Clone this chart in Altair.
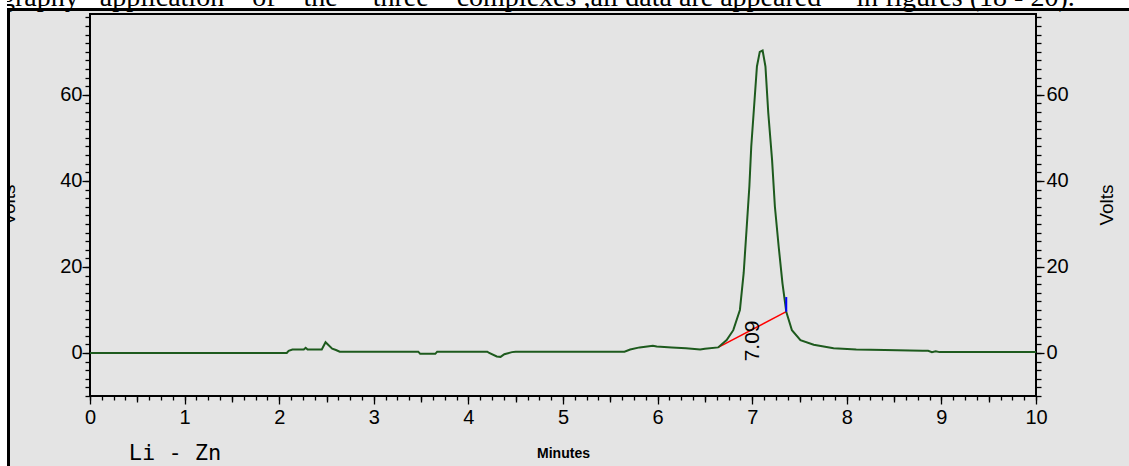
import altair as alt
import pandas as pd
import numpy as np

# ---- chromatogram trace (minutes, volts) ----
minutes = [0.0, 2.08, 2.10, 2.14, 2.26, 2.28, 2.30, 2.45, 2.49, 2.56, 2.60, 2.64,
           3.47, 3.49, 3.65, 3.67, 4.20, 4.22, 4.30, 4.34, 4.38, 4.46, 4.50,
           5.65, 5.71, 5.81, 5.95, 5.99, 6.15, 6.30, 6.45, 6.50, 6.64,
           6.73, 6.80, 6.87, 6.91, 6.94, 6.97, 6.99, 7.02, 7.05, 7.08, 7.11,
           7.14, 7.17, 7.21, 7.24, 7.28, 7.32, 7.36, 7.42, 7.51, 7.65, 7.86,
           8.10, 8.40, 8.80, 8.86, 8.90, 8.94, 8.98, 10.0]
volts = [0.0, 0.0, 0.5, 0.8, 0.8, 1.2, 0.8, 0.8, 2.5, 1.0, 0.7, 0.3,
         0.3, -0.2, -0.2, 0.3, 0.3, 0.0, -0.8, -0.9, -0.3, 0.2, 0.3,
         0.3, 0.8, 1.3, 1.7, 1.5, 1.3, 1.1, 0.8, 1.0, 1.3,
         3.0, 5.3, 10.0, 18.6, 28.6, 38.7, 48.0, 57.3, 66.6, 70.0, 70.3,
         66.6, 55.8, 44.9, 34.0, 24.7, 16.2, 9.6, 5.3, 3.0, 1.9, 1.1,
         0.8, 0.7, 0.5, 0.5, 0.2, 0.4, 0.2, 0.2]

# integration baseline (red) and peak end marker (blue)
base_t = [6.64, 7.36]
base_v = [1.3, 9.6]
end_t = [7.36]
end_v = [9.6, 13.0]
peak_label = ["7.09"]
peak_label_pos = [7.01, 2.8]

x_major = list(range(0, 11))
x_mid = [i + 0.5 for i in range(10)]
x_minor = [round(v, 3) for v in np.arange(0, 10.0001, 0.125)]
y_major = [0, 20, 40, 60]
y_minor = list(range(-10, 79, 2))

NB = "\u00a0"
caption = ("graphy" + NB * 2 + " application" + NB * 3 + " of" + NB * 3 + " the" + NB * 4 +
           " three" + NB * 3 + " complexes ,all data are appeared" + NB * 4 +
           " in figures (18 - 20).")

W, H = 946, 382
NUMFONT = "Liberation Sans, Arial, sans-serif"
GRAY = "#e4e4e4"

df = pd.DataFrame({"t": minutes, "v": volts})
one = pd.DataFrame({"a": [0]})

xs = alt.Scale(domain=[0, 10], nice=False, zero=False)
ys = alt.Scale(domain=[-10, 78.8], nice=False, zero=False)


def ax(**kw):
    base = dict(domain=False, grid=False, tickColor="black", tickWidth=1.3,
                labelFont=NUMFONT, labelFontSize=20, labelColor="black",
                labelFlush=False, labelOverlap=False, title=None)
    base.update(kw)
    return alt.Axis(**base)


def ghost(xaxis, yaxis):
    return alt.Chart(df).mark_point(opacity=0).encode(
        x=alt.X("t:Q", scale=xs, axis=xaxis),
        y=alt.Y("v:Q", scale=ys, axis=yaxis),
    )


def rect(x1, x2, y1, y2, color):
    return alt.Chart(one).mark_rect(color=color).encode(
        x=alt.value(x1), x2=alt.value(x2), y=alt.value(y1), y2=alt.value(y2))


# decorations (white page strips, caption, frame)
top_white = rect(-90, 1039, -14, -6, "white")
caption_txt = alt.Chart(one).mark_text(
    text=caption, font="Liberation Serif, Times New Roman, serif", fontSize=28,
    align="left", baseline="alphabetic", color="black"
).encode(x=alt.value(-89), y=alt.value(-8))
volts_left = alt.Chart(one).mark_text(
    text="Volts", font="Liberation Sans, Arial, sans-serif", fontSize=19, angle=270,
    align="center", baseline="alphabetic", color="black"
).encode(x=alt.value(-75), y=alt.value(191))
left_white = rect(-90, -83, -14, 452, "white")
top_border = rect(-83, 1039, -6, -3, "black")
left_border = rect(-83, -80, -6, 452, "black")

volts_right = alt.Chart(one).mark_text(
    text="Volts", font="Liberation Sans, Arial, sans-serif", fontSize=19, angle=270,
    align="center", baseline="alphabetic", color="black"
).encode(x=alt.value(1023), y=alt.value(191))
lizn = alt.Chart(one).mark_text(
    text="Li - Zn", font="DejaVu Sans Mono, monospace", fontSize=22,
    align="center", baseline="middle", color="black"
).encode(x=alt.value(85), y=alt.value(439))

# trace with major axes
trace = alt.Chart(df).mark_line(color="#1d5a1d", strokeWidth=2).encode(
    x=alt.X("t:Q", scale=xs, axis=ax(orient="bottom", values=x_major, tickSize=8,
                                     labelPadding=3, format="d", title="Minutes",
                                     titleFont=NUMFONT, titleFontSize=14,
                                     titleFontWeight="bold", titleColor="black",
                                     titlePadding=19)),
    y=alt.Y("v:Q", scale=ys, axis=ax(orient="left", values=y_major, tickSize=8,
                                     labelPadding=0, format="d")),
)
x_mid_ax = ghost(ax(orient="bottom", values=x_mid, tickSize=6, labels=False), None)
x_min_ax = ghost(ax(orient="bottom", values=x_minor, tickSize=4, labels=False), None)
y_min_left = ghost(None, ax(orient="left", values=y_minor, tickSize=5, labels=False))
y_maj_right = ghost(None, ax(orient="right", values=y_major, tickSize=8,
                            labelPadding=2, format="d"))
y_min_right = ghost(None, ax(orient="right", values=y_minor, tickSize=5, labels=False))

bdf = pd.DataFrame({"t1": [base_t[0]], "v1": [base_v[0]], "t2": [base_t[1]], "v2": [base_v[1]]})
baseline_rule = alt.Chart(bdf).mark_rule(color="#ff0000", strokeWidth=1.5).encode(
    x=alt.X("t1:Q", scale=xs, axis=None), y=alt.Y("v1:Q", scale=ys, axis=None),
    x2="t2:Q", y2="v2:Q")
edf = pd.DataFrame({"t": end_t, "v1": [end_v[0]], "v2": [end_v[1]]})
end_rule = alt.Chart(edf).mark_rule(color="#0000ff", strokeWidth=2).encode(
    x=alt.X("t:Q", scale=xs, axis=None), y=alt.Y("v1:Q", scale=ys, axis=None), y2="v2:Q")
ldf = pd.DataFrame({"t": [peak_label_pos[0]], "v": [peak_label_pos[1]], "lab": peak_label})
peak_txt = alt.Chart(ldf).mark_text(
    font="Liberation Sans, Arial, sans-serif", fontSize=21, angle=270,
    align="center", baseline="middle", color="black"
).encode(x=alt.X("t:Q", scale=xs, axis=None), y=alt.Y("v:Q", scale=ys, axis=None),
         text="lab:N")

chart = alt.layer(
    top_white, caption_txt, volts_left, left_white, top_border, left_border,
    volts_right, lizn,
    x_min_ax, x_mid_ax, y_min_left, y_maj_right, y_min_right,
    baseline_rule, trace, end_rule, peak_txt,
).resolve_scale(x="independent", y="independent").resolve_axis(
    x="independent", y="independent"
).properties(
    width=W, height=H,
    autosize=alt.AutoSizeParams(type="none"),
    padding={"left": 90, "top": 14, "right": 93, "bottom": 70},
).configure(background=GRAY).configure_view(stroke="black", strokeWidth=2, fill=GRAY)

chart.save("out.html", embed_options={"renderer": "svg", "actions": False})
